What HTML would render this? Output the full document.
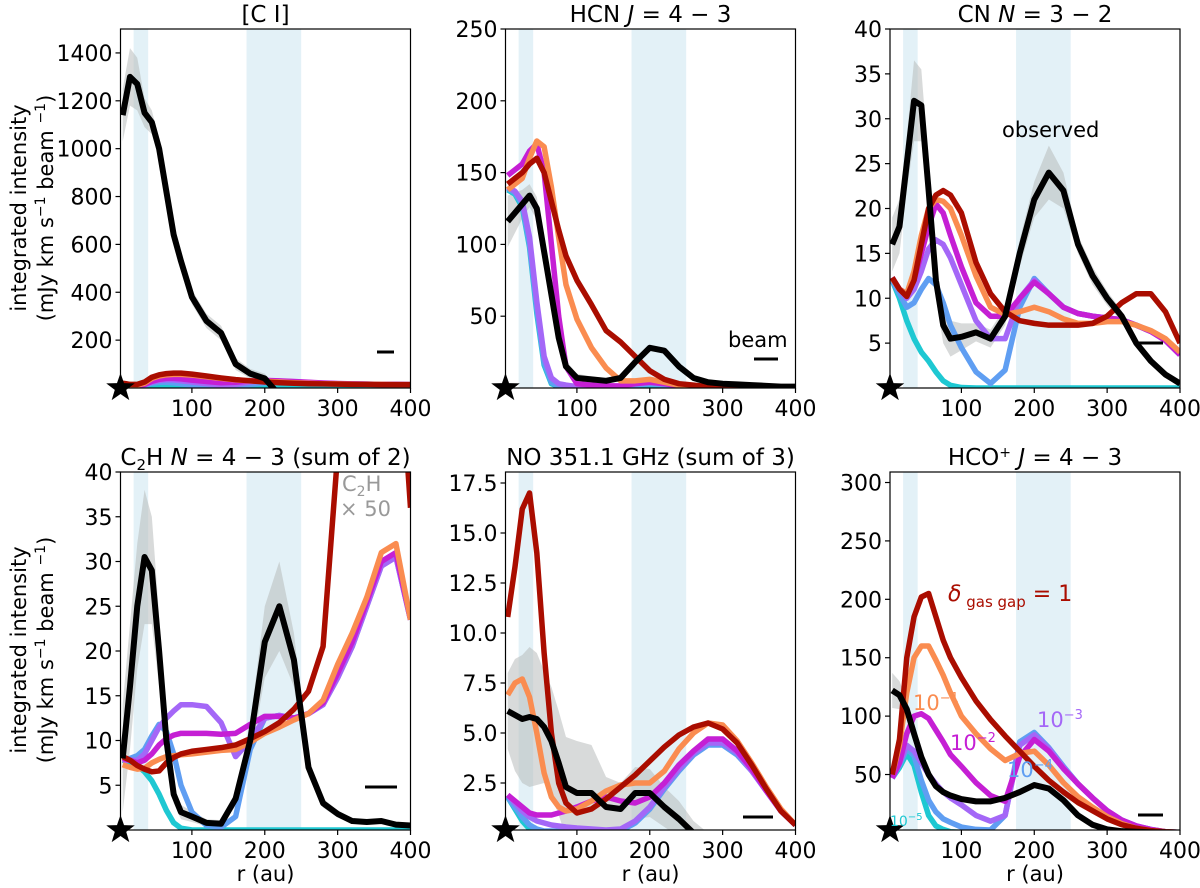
<!DOCTYPE html>
<html><head><meta charset="utf-8">
<style>
body{margin:0;background:#fff;}
svg{display:block;font-family:"DejaVu Sans","Liberation Sans",sans-serif;}
</style></head>
<body>
<svg id="fig" width="1200" height="888" viewBox="0 0 1200 888" xmlns="http://www.w3.org/2000/svg">
<text transform="translate(26,208) rotate(-90)" text-anchor="middle" font-size="21">integrated intensity</text>
<text transform="translate(53,208) rotate(-90)" text-anchor="middle" font-size="21">(mJy km s<tspan font-size="14" dy="-8">−1</tspan><tspan dy="8"> beam </tspan><tspan font-size="14" dy="-8">−1</tspan><tspan dy="8">)</tspan></text>
<text transform="translate(26,650) rotate(-90)" text-anchor="middle" font-size="21">integrated intensity</text>
<text transform="translate(53,650) rotate(-90)" text-anchor="middle" font-size="21">(mJy km s<tspan font-size="14" dy="-8">−1</tspan><tspan dy="8"> beam </tspan><tspan font-size="14" dy="-8">−1</tspan><tspan dy="8">)</tspan></text>
</svg>
<script>
const R = [5,15,25,35,45,55,65,75,85,100,120,140,160,180,200,220,240,260,280,300,320,340,360,380,400];
const xTicks = [100,200,300,400];
const gapBands = [[20,40],[175,250]];

// [C I]
const ciYTicks = [200,400,600,800,1000,1200,1400];
const ciBlack = [1140,1300,1270,1150,1110,1000,820,640,530,380,280,230,100,60,40,-30,-30,-30,-30,-30,-30,-30,-30,-30,-30];
const ciErr = [110,120,110,60,50,40,40,30,30,30,30,30,25,20,20,10,10,10,10,10,10,10,10,10,10];
const ciRed = [20,15,15,25,45,55,60,62,62,58,50,42,35,30,25,22,20,18,17,16,15,15,14,14,14];
const ciOrange = [18,14,12,20,40,50,55,57,57,54,47,40,34,30,28,25,22,20,18,17,16,15,15,14,14];
const ciMagenta = [15,12,10,15,28,36,40,40,38,33,27,22,24,30,32,30,27,24,21,19,17,16,15,15,14];
const ciPurple = [15,12,10,14,25,32,35,34,30,25,18,12,15,25,30,29,26,23,20,18,17,16,15,15,14];
const ciBlue = [14,11,8,12,20,24,24,22,18,12,6,3,5,15,22,24,22,20,18,17,16,15,15,14,14];
const ciCyan = [14,10,6,8,12,14,12,9,6,3,1,0,0,0,0,0,0,0,0,0,0,0,0,0,0];

// HCN
const hcnYTicks = [50,100,150,200,250];
const hcnBlack = [116,122,128,134,125,95,65,35,15,7,6,5,7,18,28,26,15,7,4,3,2.5,2,1.5,1,1];
const hcnErr = [18,14,10,8,8,6,5,4,4,3,2,2,2,2,2,2,2,1,1,1,1,1,1,1,1];
const hcnRed = [142,146,150,156,160,150,130,110,92,75,58,40,32,22,12,6,3,2,1,1,0.5,0.5,0.3,0.2,0.1];
const hcnOrange = [138,142,146,160,172,168,140,105,72,48,28,14,5,5,6,4,2,1,0.5,0.3,0.2,0.1,0,0,0];
const hcnMagenta = [148,152,156,165,170,150,100,50,15,3,2,1.5,1.5,3,4,3,1.5,0.5,0.2,0.1,0,0,0,0,0];
const hcnPurple = [140,137,130,105,60,22,7,3,2,1,0.5,0.5,1,3,4,3,1.5,0.5,0.2,0.1,0,0,0,0,0];
const hcnBlue = [139,136,128,100,55,18,4,1,0.5,0.2,0,0,0.5,2,3,2,1,0.3,0,0,0,0,0,0,0];
const hcnCyan = [138,135,126,98,52,16,3,1,0.3,0,0,0,0,0,0,0,0,0,0,0,0,0,0,0,0];

// CN
const cnYTicks = [5,10,15,20,25,30,35,40];
const cnBlack = [16,18,25,32,31.5,22,12,7,5.5,5.7,6.2,5.5,8,15,21,24,22,16,12.5,10,8,5,3,1.5,0.5];
const cnErr = [3,3,3,4.5,4,3,2,2,2,1.5,1,1,1,1.5,2,3,2,1,1,0.8,0.6,0.5,0.4,0.3,0.3];
const cnRed = [12.3,11,10.2,12,16,20,21.5,22,21.5,19.5,14,10.5,8.5,7.5,7.2,7,7,7,7.2,8,9.5,10.5,10.5,8.5,5];
const cnOrange = [12.2,11,10.5,13,17,20,21,20.8,20,17,12.5,9,8.2,8.5,9,8.5,7.7,7.2,7.2,7.4,7.4,7,6.4,5.5,4];
const cnMagenta = [12.3,11,10.5,12,15,18,20.5,19.5,17,13.5,9.5,8,8,10,11.8,10.5,9,8.3,8,7.8,7.6,7,6.3,5.3,3.7];
const cnPurple = [12.3,11,10,11,13,15.5,16.5,16,14.5,11.5,7.5,5.5,5.5,10,12,10.5,9,8.3,8,7.8,7.6,7,6.3,5.3,3.7];
const cnBlue = [12,10.5,9,9.5,11,12.2,11.5,9.5,7,4.5,1.8,0.5,2,9,12.2,10.5,9,8.3,8,7.8,7.6,7,6.3,5.3,3.7];
const cnCyan = [12,10,7.5,5.5,4,3,1.8,0.8,0.3,0.05,0,0,0,0,0,0,0,0,0,0,0,0,0,0,0];

// C2H
const c2hYTicks = [5,10,15,20,25,30,35,40];
const c2hBlack = [8,16,25,30.5,29,20,10,4,2,1.5,0.8,0.7,3.5,10,21,25,19,7,3,1.8,1,0.9,1,0.6,0.5];
const c2hErr = [6,7,7,7.5,6,4,2,1,0.8,0.6,0.4,0.4,0.8,2,4,5,3,1,0.5,0.4,0.3,0.3,0.3,0.2,0.2];
const c2hRed = [8.2,7.8,7.2,6.8,6.5,6.6,7.5,8.1,8.5,8.8,9,9.2,9.5,10.2,11,12,13.5,15.5,20.5,42,60,60,60,60,36];
const c2hOrange = [7.3,7,6.8,6.9,7.5,7.9,8.2,8.3,8.4,8.5,8.7,8.9,9,9.8,10.8,11.5,12.3,13,14.5,18.5,22,26,31,32,23.5];
const c2hMagenta = [8,7.8,7.5,7.8,8.5,9.5,10.2,10.6,10.8,10.8,10.8,10.7,10.8,11.8,12.7,12.7,12.5,13,14.2,17.5,21,25.5,30,31,23.5];
const c2hPurple = [7.8,7.8,7.8,8.5,10,11.5,12.5,13.3,14,14,13.8,12,8.2,10,12.5,12.8,12.5,13,14,17,20.5,25,29.5,30.5,23.5];
const c2hBlue = [7.8,8,8.3,9,10.5,11.8,11,8.5,5,2,0.5,0.3,1.5,9,12.5,12.8,12.5,13,14,17,20.5,25,29.5,30.5,23.5];
const c2hCyan = [7.8,7.6,7.2,6.5,5.5,4,2.2,0.8,0.2,0,0,0,0,0,0,0,0,0,0,0,0,0,0,0,0];

// NO
const noYTicks = [2.5,5.0,7.5,10.0,12.5,15.0,17.5];
const noBlack = [6.1,5.9,5.7,5.8,5.7,5.3,4.6,3.5,2.3,2.0,2.0,1.3,1.2,2.0,2.0,1.3,0.7,0,-0.5,-0.5,-0.5,-0.5,-0.5,-0.5,-0.5];
const noErr = [1.9,2.8,3.2,3.5,3.3,2.8,2.7,2.6,2.5,2.6,2.4,1.5,1.3,1.3,1.2,1.0,0.9,0.6,0.5,0.5,0.5,0.5,0.5,0.5,0.5];
const noRed = [10.8,13.3,16.2,17,14,9,5,2.5,1.5,1.0,1.2,1.7,2.3,2.9,3.6,4.3,4.9,5.3,5.5,5.2,4.5,3.4,2.2,1.1,0.4];
const noOrange = [6.9,7.5,7.7,6.8,5,3,1.8,1.3,1.1,1.2,1.6,2.1,2.4,2.5,2.5,3.1,4.2,5.0,5.5,5.4,4.6,3.5,2.3,1.2,0.4];
const noMagenta = [1.9,1.6,1.3,1.0,0.9,0.9,0.9,1.0,1.1,1.3,1.6,1.8,1.6,1.5,1.8,2.5,3.4,4.1,4.7,4.7,4.1,3.2,2.1,1.1,0.4];
const noPurple = [1.9,1.5,1.1,0.8,0.6,0.5,0.4,0.35,0.3,0.25,0.2,0.15,0.2,0.6,1.3,2.3,3.2,4,4.5,4.5,4,3.1,2.1,1.1,0.4];
const noBlue = [1.8,1.3,0.8,0.4,0.2,0.1,0.1,0.1,0.1,0.05,0,0,0.1,0.5,1.2,2.2,3.1,3.9,4.4,4.4,3.9,3.1,2.1,1.1,0.4];
const noCyan = [1.8,1.2,0.6,0.2,0.05,0,0,0,0,0,0,0,0,0,0,0,0,0,0,0,0,0,0,0,0];

// HCO+
const hcoYTicks = [50,100,150,200,250,300];
const hcoBlack = [122,118,106,85,65,50,40,35,32,29,27,27,30,35,41,38,28,15,7,3,1.5,1,0.5,0.2,0.1];
const hcoErr = [15,12,8,5,4,3,2,2,2,2,2,2,2,2,2,2,2,1,1,1,1,1,1,1,1];
const hcoRed = [50,80,150,185,202,205,185,165,150,133,113,97,83,70,57,45,35,26,19,12,7,4,2,1,0.5];
const hcoOrange = [50,75,120,150,160,160,148,135,120,100,85,72,62,68,70,58,43,31,22,14,8,4,2,1,0.5];
const hcoMagenta = [47,60,85,100,102,98,88,78,67,57,43,32,27,65,80,70,55,42,30,19,11,6,3,1,0.5];
const hcoPurple = [47,60,75,70,60,50,42,35,30,24,15,10,15,75,84,72,56,42,30,19,11,6,3,1,0.5];
const hcoBlue = [47,58,72,66,45,28,18,12,9,5,3,2.5,15,78,86,73,57,42,30,19,11,6,3,1,0.5];
const hcoCyan = [47,56,68,58,35,15,6,3,1,0.5,0,0,0,0,0,0,0,0,0,0,0,0,0,0,0];

const COLORS = {cyan:'#1ec8d2',blue:'#5f9ef2',purple:'#a467f7',magenta:'#c51fd4',orange:'#fa8c50',red:'#aa0d00'};
const NS='http://www.w3.org/2000/svg';
const svg=document.getElementById('fig');
function mk(tag,attrs,parent){const e=document.createElementNS(NS,tag);for(const k in attrs)e.setAttribute(k,attrs[k]);(parent||svg).appendChild(e);return e;}

function panel(p){
  const x0=p.x0,y0=p.y0,w=290,h=p.h;
  const g=mk('g',{});
  
  
  const sx=r=>x0+(r-2)/(398)*w;
  const sy=v=>y0+h-(v-p.ymin)/(p.ymax-p.ymin)*h;
  const cid='clip-'+p.name;
  const cp=mk('clipPath',{id:cid},g);mk('rect',{x:x0,y:y0,width:w,height:h},cp);
  const inner=mk('g',{'clip-path':'url(#'+cid+')'},g);
  gapBands.forEach((b,i)=>{
    const r=mk('rect',{x:sx(b[0]),y:y0,width:sx(b[1])-sx(b[0]),height:h,fill:'#e3f1f7'},inner);
    
    
  });
  let d='M'+R.map((r,i)=>sx(r)+','+sy(p.black[i]+p.err[i])).join('L');
  for(let i=R.length-1;i>=0;i--) d+='L'+sx(R[i])+','+sy(p.black[i]-p.err[i]);
  const band=mk('path',{d:d+'Z',fill:'#b8bcbc','fill-opacity':0.55},inner);
  
  
  const order=['cyan','blue','purple','magenta','orange','red'];
  order.forEach(c=>{
    const arr=p.series[c];
    const l=mk('polyline',{points:R.map((r,i)=>sx(r)+','+sy(arr[i])).join(' '),fill:'none',stroke:COLORS[c],'stroke-width':5.5,'stroke-linejoin':'round'},inner);
    
    
  });
  const bl=mk('polyline',{points:R.map((r,i)=>sx(r)+','+sy(p.black[i])).join(' '),fill:'none',stroke:'#000','stroke-width':6,'stroke-linejoin':'round'},inner);
  
  
  const fr=mk('rect',{x:x0,y:y0,width:w,height:h,fill:'none',stroke:'#000','stroke-width':1.2},g);
  
  
  xTicks.forEach(t=>{
    mk('line',{x1:sx(t),x2:sx(t),y1:y0+h,y2:y0+h+5,stroke:'#000','stroke-width':1.2},g);
    const tx=mk('text',{x:sx(t),y:y0+h+28,'text-anchor':'middle','font-size':22},g);tx.textContent=t;
    
    
  });
  p.yticks.forEach(t=>{
    mk('line',{x1:x0-5,x2:x0,y1:sy(t),y2:sy(t),stroke:'#000','stroke-width':1.2},g);
    const tx=mk('text',{x:x0-8,y:sy(t)+8,'text-anchor':'end','font-size':22},g);tx.textContent=p.fmt?t.toFixed(1):t;
    
    
  });
  const tt=mk('text',{x:x0+w/2,y:y0-7,'text-anchor':'middle','font-size':23},g);tt.innerHTML=p.title;
  
  
  const cx=x0,cy=y0+h,ro=15,ri=6;let sp=[];
  for(let i=0;i<10;i++){const a=-Math.PI/2+i*Math.PI/5;const rr=i%2?ri:ro;sp.push((cx+rr*Math.cos(a))+','+(cy+rr*Math.sin(a)));}
  const st=mk('polygon',{points:sp.join(' '),fill:'#000'},g);
  
  
  const bm=mk('line',{x1:p.beam[0],x2:p.beam[1],y1:p.beam[2],y2:p.beam[2],stroke:'#000','stroke-width':3},g);
  
  
  if(p.xlabel){const xl=mk('text',{x:x0+w/2,y:y0+h+51,'text-anchor':'middle','font-size':21},g);xl.textContent='r (au)';
    
    }
  return g;
}
const S=(c,b,pu,m,o,r)=>({cyan:c,blue:b,purple:pu,magenta:m,orange:o,red:r});
panel({name:'panel-ci',x0:120.5,y0:29,h:359,ymin:0,ymax:1500,yticks:ciYTicks,title:'[C I]',black:ciBlack,err:ciErr,series:S(ciCyan,ciBlue,ciPurple,ciMagenta,ciOrange,ciRed),beam:[377,394,352]});
panel({name:'panel-hcn',x0:505.5,y0:29,h:359,ymin:0,ymax:250,yticks:hcnYTicks,title:'HCN <tspan font-style="italic">J</tspan> = 4 − 3',black:hcnBlack,err:hcnErr,series:S(hcnCyan,hcnBlue,hcnPurple,hcnMagenta,hcnOrange,hcnRed),beam:[754,778,359]});
panel({name:'panel-cn',x0:890,y0:29,h:359,ymin:0,ymax:40,yticks:cnYTicks,title:'CN <tspan font-style="italic">N</tspan> = 3 − 2',black:cnBlack,err:cnErr,series:S(cnCyan,cnBlue,cnPurple,cnMagenta,cnOrange,cnRed),beam:[1138,1163,343]});
panel({name:'panel-c2h',x0:120.5,y0:472,h:358,ymin:0,ymax:40,yticks:c2hYTicks,title:'C<tspan font-size="15" dy="5">2</tspan><tspan dy="-5">H </tspan><tspan font-style="italic">N</tspan> = 4 − 3 (sum of 2)',black:c2hBlack,err:c2hErr,series:S(c2hCyan,c2hBlue,c2hPurple,c2hMagenta,c2hOrange,c2hRed),beam:[365,397,787],xlabel:true});
panel({name:'panel-no',x0:505.5,y0:472,h:358,ymin:0.15,ymax:18.05,yticks:noYTicks,fmt:true,title:'NO 351.1 GHz (sum of 3)',black:noBlack,err:noErr,series:S(noCyan,noBlue,noPurple,noMagenta,noOrange,noRed),beam:[743,773,817],xlabel:true});
panel({name:'panel-hcoplus',x0:890,y0:472,h:358,ymin:2.5,ymax:309,yticks:hcoYTicks,title:'HCO<tspan font-size="14" dy="-8">+</tspan><tspan dy="8"> </tspan><tspan font-style="italic">J</tspan> = 4 − 3',black:hcoBlack,err:hcoErr,series:S(hcoCyan,hcoBlue,hcoPurple,hcoMagenta,hcoOrange,hcoRed),beam:[1138,1163,815],xlabel:true});

function label(txt,x,y,size,color,name){const t=mk('text',{x:x,y:y,'font-size':size,fill:color});t.innerHTML=txt;
  
  }
label('beam',728,347,21,'#000','beam-label');
label('observed',1002,137,21,'#000','observed-label');
label('C<tspan font-size="14" dy="5">2</tspan><tspan dy="-5">H</tspan>',342,491,21,'#999','c2h-scale-label');
label('× 50',340,516,21,'#999','c2h-scale-factor');
label('<tspan font-style="italic">δ</tspan><tspan font-size="15" dy="6"> gas gap</tspan><tspan dy="-6"> = 1</tspan>',948,601,22,'#aa0d00','delta-1-label');
label('10<tspan font-size="13" dy="-8">−1</tspan>',913,710,21,'#fa8c50','delta-1e-1-label');
label('10<tspan font-size="13" dy="-8">−2</tspan>',950,750,21,'#c51fd4','delta-1e-2-label');
label('10<tspan font-size="13" dy="-8">−3</tspan>',1037,727,21,'#a467f7','delta-1e-3-label');
label('10<tspan font-size="13" dy="-8">−4</tspan>',1007,777,21,'#5f9ef2','delta-1e-4-label');
label('10<tspan font-size="10" dy="-6">−5</tspan>',890,826,14,'#1ec8d2','delta-1e-5-label');
</script>
</body></html>
